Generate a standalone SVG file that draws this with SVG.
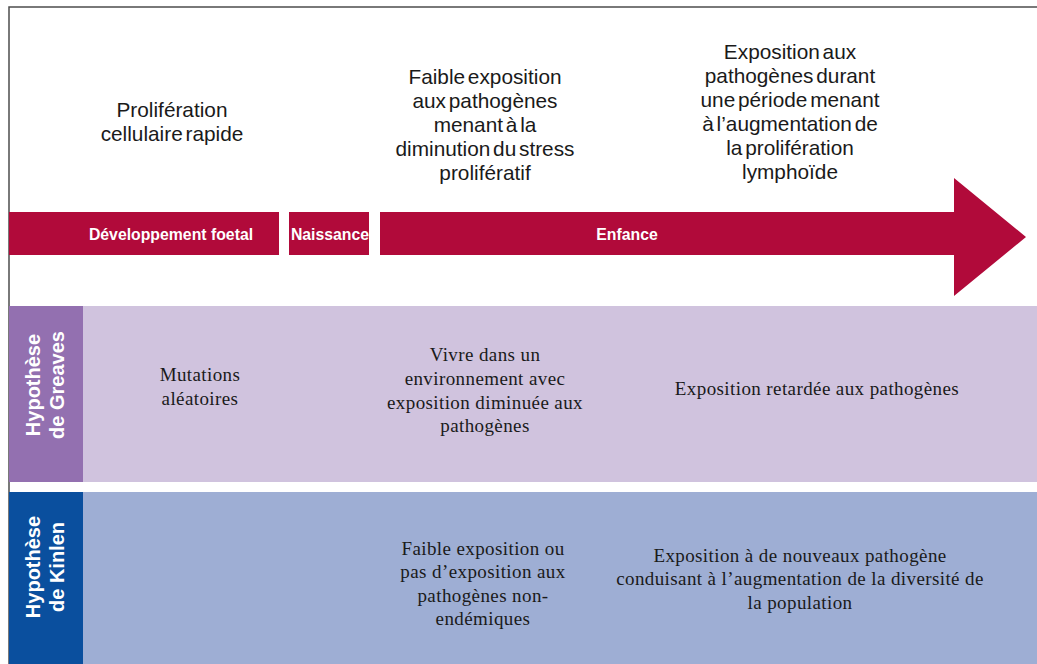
<svg xmlns="http://www.w3.org/2000/svg" width="1037" height="664" viewBox="0 0 1037 664">
  <style>
    .top { font-family: "Liberation Sans", Arial, sans-serif; font-size: 20.8px; fill: #1a1a1a; text-anchor: middle; word-spacing: -3px; }
    .bar { font-family: "Liberation Sans", Arial, sans-serif; font-size: 15.8px; font-weight: bold; fill: #ffffff; text-anchor: middle; }
    .body { font-family: "Liberation Serif", "Times New Roman", serif; font-size: 19px; letter-spacing: 0.4px; fill: #1a1a1a; text-anchor: middle; }
    .side { font-family: "Liberation Sans", Arial, sans-serif; font-size: 20px; font-weight: bold; fill: #ffffff; text-anchor: middle; }
    .red { fill: #b10a3a; }
  </style>

  <rect x="0" y="0" width="1037" height="664" fill="#ffffff"/>

  <!-- frame -->
  <g id="frame" fill="none" stroke="#4d4d4d" stroke-width="1.5">
    <polyline points="9,664 9,7 1037,7"/>
  </g>

  <!-- timeline arrow -->
  <g id="timeline">
    <rect class="red" x="9" y="212" width="270" height="43"/>
    <rect class="red" x="289" y="212" width="80" height="43"/>
    <polygon class="red" points="380,212 954,212 954,178 1026,237 954,296 954,255 380,255"/>
    <text class="bar" x="171" y="239.5">Développement foetal</text>
    <text class="bar" x="330" y="239.5">Naissance</text>
    <text class="bar" x="627" y="239.5">Enfance</text>
  </g>

  <!-- stage descriptions above the arrow -->
  <g id="stage-foetal">
    <text class="top" x="172" y="117">Prolifération</text>
    <text class="top" x="172" y="141">cellulaire rapide</text>
  </g>
  <g id="stage-early">
    <text class="top" x="485" y="84">Faible exposition</text>
    <text class="top" x="485" y="108">aux pathogènes</text>
    <text class="top" x="485" y="132">menant à la</text>
    <text class="top" x="485" y="156">diminution du stress</text>
    <text class="top" x="485" y="180">prolifératif</text>
  </g>
  <g id="stage-late">
    <text class="top" x="790" y="59">Exposition aux</text>
    <text class="top" x="790" y="83">pathogènes durant</text>
    <text class="top" x="790" y="107">une période menant</text>
    <text class="top" x="790" y="131">à l’augmentation de</text>
    <text class="top" x="790" y="155">la prolifération</text>
    <text class="top" x="790" y="179">lymphoïde</text>
  </g>

  <!-- Greaves row -->
  <g id="greaves">
    <rect x="83" y="306" width="954" height="176" fill="#d0c3de"/>
    <rect x="9" y="306" width="74" height="176" fill="#9370b0"/>
    <text class="side" transform="translate(40,385) rotate(-90)">Hypothèse</text>
    <text class="side" transform="translate(64,385) rotate(-90)">de Greaves</text>
    <text class="body" x="200" y="381">Mutations</text>
    <text class="body" x="200" y="405">aléatoires</text>
    <text class="body" x="485" y="361">Vivre dans un</text>
    <text class="body" x="485" y="385">environnement avec</text>
    <text class="body" x="485" y="409">exposition diminuée aux</text>
    <text class="body" x="485" y="432">pathogènes</text>
    <text class="body" x="817" y="395">Exposition retardée aux pathogènes</text>
  </g>

  <!-- Kinlen row -->
  <g id="kinlen">
    <rect x="83" y="492" width="954" height="172" fill="#9eaed4"/>
    <rect x="9" y="492" width="74" height="172" fill="#0a4f9e"/>
    <text class="side" transform="translate(40,567) rotate(-90)">Hypothèse</text>
    <text class="side" transform="translate(64,567) rotate(-90)">de Kinlen</text>
    <text class="body" x="483" y="555">Faible exposition ou</text>
    <text class="body" x="483" y="578">pas d’exposition aux</text>
    <text class="body" x="483" y="602">pathogènes non-</text>
    <text class="body" x="483" y="625">endémiques</text>
    <text class="body" x="800" y="562">Exposition à de nouveaux pathogène</text>
    <text class="body" x="800" y="585">conduisant à l’augmentation de la diversité de</text>
    <text class="body" x="800" y="609">la population</text>
  </g>
</svg>
